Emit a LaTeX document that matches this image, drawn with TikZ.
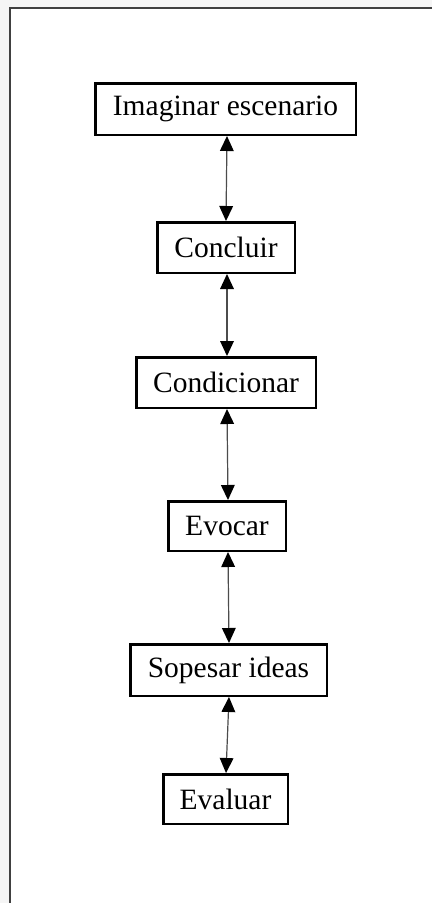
\documentclass[tikz,border=0pt]{standalone}
\usepackage{fontspec}
\setmainfont{Liberation Serif}
\usetikzlibrary{arrows.meta}
\begin{document}
\begin{tikzpicture}[x=1pt,y=-1pt,
  stagebox/.style={draw=black,line width=2.5pt,fill=white,inner sep=0pt,
    font=\fontsize{29.5}{35}\selectfont,text=black},
  link/.style={draw=black!70,line width=1.2pt,
    arrows={Triangle[width=14pt,length=15pt,fill=black,color=black,line width=0pt]-Triangle[width=14pt,length=15pt,fill=black,color=black,line width=0pt]}},
  frameline/.style={draw=black!75,line width=1.5pt}]
  % canvas and page frame
  \useasboundingbox (0,0) rectangle (432,903);
  \fill[black!4] (0,0) rectangle (432,903);
  \fill[white] (10,8) rectangle (432,903);
  \draw[frameline] (10,903) -- (10,8) -- (432,8);

  % stages
  \node[stagebox,minimum width=260.5pt,minimum height=51.5pt] (imaginar)    at (225.5,109)   {Imaginar escenario};
  \node[stagebox,minimum width=137.5pt,minimum height=50.5pt] (concluir)    at (226,247.5)   {Concluir};
  \node[stagebox,minimum width=179.5pt,minimum height=50.5pt] (condicionar) at (226,382.5)   {Condicionar};
  \node[stagebox,minimum width=117.5pt,minimum height=49.5pt] (evocar)      at (227,526)     {Evocar};
  \node[stagebox,minimum width=196.5pt,minimum height=51.5pt] (sopesar)     at (228.5,670)   {Sopesar ideas};
  \node[stagebox,minimum width=124.5pt,minimum height=49.5pt] (evaluar)     at (225.5,799)   {Evaluar};

  % two-way links between consecutive stages
  \draw[link] ([xshift=1.5pt]imaginar.south) -- ([xshift=0pt]concluir.north);
  \draw[link] ([xshift=1pt]concluir.south)   -- ([xshift=1pt]condicionar.north);
  \draw[link] ([xshift=1pt]condicionar.south) -- ([xshift=1pt]evocar.north);
  \draw[link] ([xshift=1pt]evocar.south)     -- ([xshift=0.5pt]sopesar.north);
  \draw[link] ([xshift=0.5pt]sopesar.south)  -- ([xshift=0.5pt]evaluar.north);
\end{tikzpicture}
\end{document}
